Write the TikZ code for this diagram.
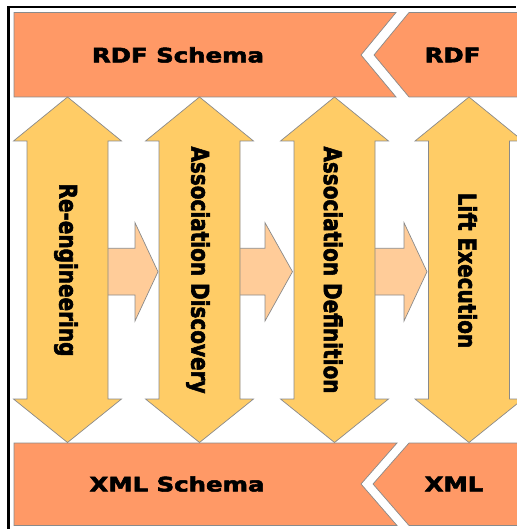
\documentclass[tikz,border=0pt]{standalone}
\usepackage{fontspec}
\newfontfamily\diagfont{DejaVu Sans}[BoldFeatures={FakeBold=2.5}]

\definecolor{bandfill}{RGB}{255,153,102}
\definecolor{stagefill}{RGB}{255,204,102}
\definecolor{flowfill}{RGB}{255,204,153}
\definecolor{edgegray}{RGB}{138,138,138}

\begin{document}
\begin{tikzpicture}[x=1pt,y=-1pt,
  band/.style={fill=bandfill, draw=edgegray, line width=0.7pt},
  stage/.style={fill=stagefill, draw=edgegray, line width=0.7pt},
  flow/.style={fill=flowfill, draw=edgegray, line width=0.7pt},
  labelfont/.style={font=\diagfont\bfseries\fontsize{20}{24}\selectfont, text=black, inner sep=0pt},
  bandlabel/.style={labelfont, xscale=1.22},
  stagelabel/.style={labelfont, xscale=1.22, rotate=-90}]

\useasboundingbox (0,0) rectangle (516,529);

% frame on the top and left sides
\draw[line width=2.5pt] (8.3,529) |- (516,7);

% top band: RDF Schema with notch, RDF chevron
\draw[band] (14,12.5) -- (396,12.5) -- (361,55) -- (396,97) -- (14,97) -- cycle;
\draw[band] (409,12.5) -- (522,12.5) -- (522,97) -- (409,97) -- (374,55) -- cycle;

% bottom band: XML Schema with notch, XML chevron
\draw[band] (14,443) -- (397,443) -- (361,484) -- (397,525.5) -- (14,525.5) -- cycle;
\draw[band] (409,443) -- (522,443) -- (522,525.5) -- (409,525.5) -- (373,484) -- cycle;

% flow arrows between the stages (shaft start, head base, tip)
\foreach \s/\b/\t in {103/135/158, 235/265/292.5, 370/404/427}{
  \draw[flow] (\s,248.3) -- (\b,248.3) -- (\b,222.7) -- (\t,271.7)
    -- (\b,321) -- (\b,295) -- (\s,295) -- cycle;
}

% double-headed stage arrows
\foreach \c in {67.5,199.5,334.5,469}{
  \draw[stage] (\c,97) -- ({\c+54},141) -- ({\c+40.5},141) -- ({\c+40.5},399)
    -- ({\c+54},399) -- (\c,442.5) -- ({\c-54},399) -- ({\c-40.5},399)
    -- ({\c-40.5},141) -- ({\c-54},141) -- cycle;
}

% band labels
\node[bandlabel] (rdfs) at (178,55) {RDF Schema};
\node[bandlabel] (rdf)  at (452.5,55) {RDF};
\node[bandlabel] (xmls) at (177,484) {XML Schema};
\node[bandlabel] (xml)  at (454,484) {XML};

% stage labels
\node[stagelabel] (reeng) at (66,270) {Re-engineering};
\node[stagelabel] (disc)  at (198,270) {Association Discovery};
\node[stagelabel] (defn)  at (333,270) {Association Definition};
\node[stagelabel] (lift)  at (467.5,270.5) {Lift Execution};

\end{tikzpicture}
\end{document}
